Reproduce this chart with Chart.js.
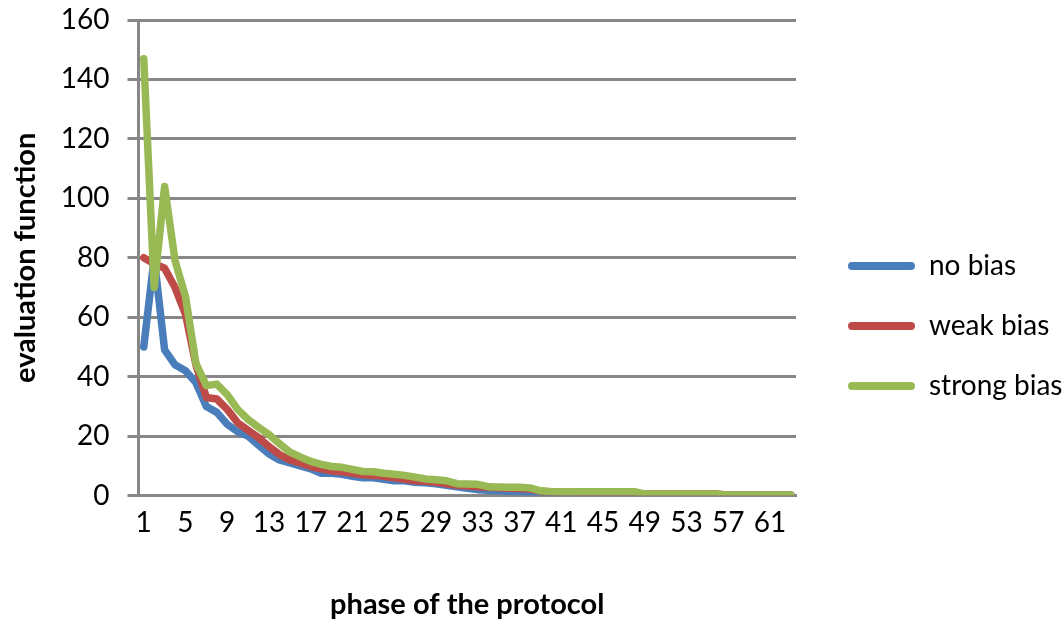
<!DOCTYPE html>
<html>
<head>
<meta charset="utf-8">
<script src="https://cdn.jsdelivr.net/npm/chart.js@4"></script>
<style>
  html, body { margin: 0; padding: 0; background: #ffffff; }
  #wrap { width: 1064px; height: 625px; position: relative; }
</style>
</head>
<body>
<div id="wrap"><canvas id="chart"></canvas></div>
<script>
// ── data ──
const phases = [
  '1','2','3','4','5','6','7','8','9','10',
  '11','12','13','14','15','16','17','18','19','20',
  '21','22','23','24','25','26','27','28','29','30',
  '31','32','33','34','35','36','37','38','39','40',
  '41','42','43','44','45','46','47','48','49','50',
  '51','52','53','54','55','56','57','58','59','60',
  '61','62','63'
];

const noBias = [
  50, 80, 49, 44, 42, 38, 30, 28, 24, 21.5,
  20, 17, 14, 12, 11, 10, 9, 7.5, 7.5, 7.2,
  6.5, 6, 6, 5.5, 5, 5, 4.5, 4.3, 4, 3.5,
  3, 2.5, 2, 1.8, 1.6, 1.5, 1.3, 1.2, 1, 1,
  1, 1, 0.9, 0.8, 0.6, 0.5, 0.4, 0.3, 0.3, 0.3,
  0.3, 0.3, 0.3, 0.3, 0.3, 0.1, 0.1, 0.1, 0.1, 0.1,
  0.1, 0.1, 0.1
];

const weakBias = [
  80, 78, 76.5, 70, 61, 44, 33, 32.5, 29, 24.5,
  22, 19.5, 16.5, 13.8, 12, 11, 9.8, 9, 8.3, 8,
  7.5, 7, 6.8, 6.5, 6, 5.5, 5, 4.8, 4.5, 4,
  3.5, 3.2, 3, 2.8, 2.6, 2.5, 2.4, 2.2, 1.5, 1.2,
  1.2, 1.2, 1.1, 1.1, 1.1, 1.1, 1.1, 1.1, 0.5, 0.5,
  0.5, 0.5, 0.5, 0.5, 0.5, 0.5, 0.2, 0.2, 0.2, 0.2,
  0.2, 0.2, 0.2
];

const strongBias = [
  147, 70, 104, 79, 67, 44.5, 37, 37.5, 34, 29,
  25.6, 23, 20.5, 17.5, 14.6, 13, 11.5, 10.5, 9.8, 9.5,
  8.8, 8.1, 8, 7.5, 7.2, 6.8, 6.2, 5.6, 5.3, 5,
  4, 3.9, 3.8, 3, 2.9, 2.8, 2.8, 2.6, 1.6, 1.4,
  1.3, 1.3, 1.3, 1.3, 1.3, 1.3, 1.3, 1.3, 0.5, 0.5,
  0.5, 0.5, 0.5, 0.5, 0.5, 0.5, 0.2, 0.2, 0.2, 0.2,
  0.2, 0.2, 0.2
];

const seriesNames = ['no bias', 'weak bias', 'strong bias'];
const yTicks = { min: 0, max: 160, step: 20 };

// ── styling ──
const GRID = '#878787';
Chart.defaults.font.family = 'Lato, "Open Sans", sans-serif';
Chart.defaults.color = '#000000';

function lineSet(label, data, color, order) {
  return {
    label,
    data,
    borderColor: color,
    backgroundColor: color,
    borderWidth: 7.5,
    borderCapStyle: 'round',
    borderJoinStyle: 'round',
    pointRadius: 0,
    pointHoverRadius: 0,
    tension: 0,
    fill: false,
    order
  };
}

// push the legend a little away from the plot (Excel leaves a gap there)
const legendGap = {
  id: 'legendGap',
  afterLayout(chart) {
    const lg = chart.legend;
    if (!lg) return;
    lg.left += 20;
    lg.right += 20;
  }
};

const ctx = document.getElementById('chart').getContext('2d');
new Chart(ctx, {
  type: 'line',
  data: {
    labels: phases,
    datasets: [
      lineSet(seriesNames[0], noBias, '#4A7EBB', 3),
      lineSet(seriesNames[1], weakBias, '#BE4B48', 2),
      lineSet(seriesNames[2], strongBias, '#98B954', 1)
    ]
  },
  plugins: [legendGap],
  options: {
    responsive: true,
    maintainAspectRatio: false,
    animation: false,
    layout: { padding: { top: 0, left: 8, bottom: 3, right: 0 } },
    scales: {
      x: {
        type: 'category',
        offset: true,
        grid: { display: false, drawTicks: false },
        border: { display: true, color: GRID, width: 3 },
        ticks: {
          autoSkip: false,
          maxRotation: 0,
          minRotation: 0,
          padding: 11,
          font: { size: 28 },
          color: '#000',
          callback: function(value, index) {
            return index % 4 === 0 ? phases[index] : '';
          }
        },
        title: {
          display: true,
          text: 'phase of the protocol',
          font: { size: 29, weight: 'bold' },
          color: '#000',
          padding: { top: 36, bottom: 0 }
        },
        afterFit: function(scale) {
          // room on the right for the legend block
          scale.paddingRight = 268;
        }
      },
      y: {
        min: yTicks.min,
        max: yTicks.max,
        grid: {
          color: GRID,
          lineWidth: 3,
          drawTicks: true,
          tickLength: 11,
          tickColor: GRID
        },
        border: { display: true, color: GRID, width: 3 },
        ticks: {
          stepSize: yTicks.step,
          padding: 18,
          font: { size: 28, lineHeight: '4px' },
          color: '#000'
        },
        title: {
          display: true,
          text: 'evaluation function',
          font: { size: 29, weight: 'bold' },
          color: '#000',
          padding: { top: 0, bottom: 0 }
        }
      }
    },
    plugins: {
      legend: {
        display: true,
        position: 'right',
        align: 'center',
        title: { display: true, text: ' ', font: { size: 10 }, padding: { top: 9, bottom: 9 } },
        labels: {
          boxWidth: 67,
          boxHeight: 8,
          padding: 32,
          useBorderRadius: true,
          borderRadius: 4,
          font: { size: 28 },
          color: '#000',
          sort: (a, b) => a.datasetIndex - b.datasetIndex,
          generateLabels: function(chart) {
            const items = Chart.defaults.plugins.legend.labels.generateLabels(chart);
            items.forEach(it => { it.lineWidth = 0; });
            return items;
          }
        }
      },
      tooltip: { enabled: false }
    }
  }
});
</script>
</body>
</html>
